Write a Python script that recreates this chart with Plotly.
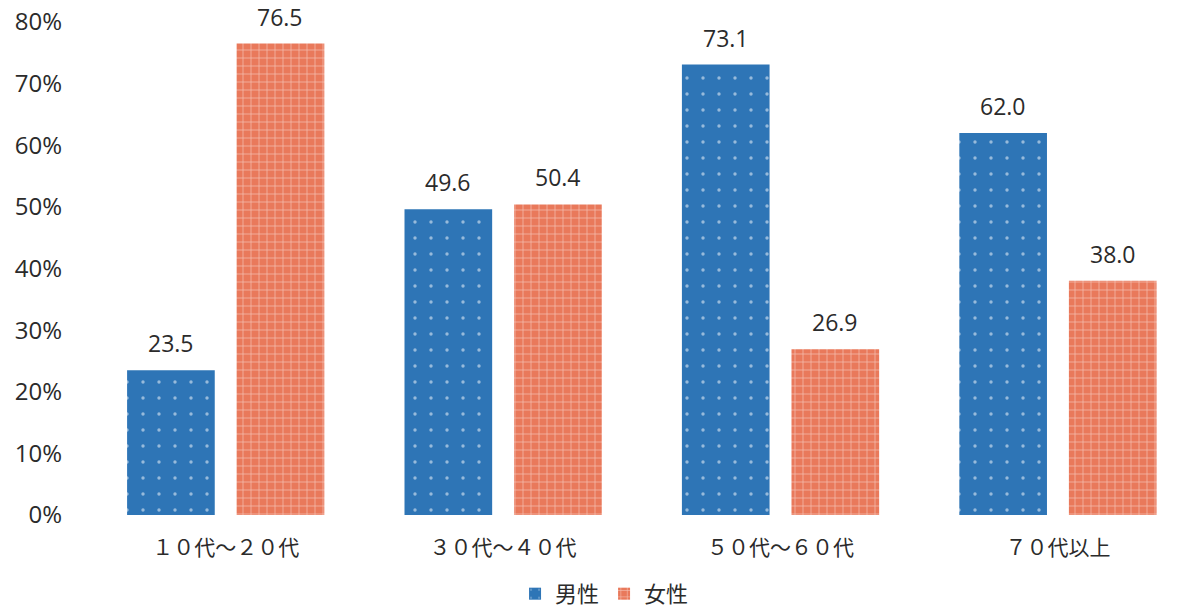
import plotly.graph_objects as go

categories = ["１０代～２０代", "３０代～４０代", "５０代～６０代", "７０代以上"]
male = [23.5, 49.6, 73.1, 62.0]
female = [76.5, 50.4, 26.9, 38.0]
yticks = [0, 10, 20, 30, 40, 50, 60, 70, 80]
yticklabels = [f"{v}%" for v in yticks]

BLUE = "#2e75b6"
ORANGE = "#e9795b"
FONT = "Open Sans, Noto Sans CJK JP, sans-serif"
TXT = "#2b2b2b"

# page body has an 8px default margin -> figure is sized/offset to compensate
W, H = 1172, 604
L, R, T, B = 79, 0, 14, 97
BARGAP, GROUPGAP = 0.21, 0.2

fig = go.Figure()
fig.add_trace(go.Bar(
    name="男性", x=categories, y=male,
    marker=dict(color=BLUE, line=dict(width=0),
                pattern=dict(shape=".", fgcolor="white", bgcolor=BLUE, size=16, solidity=0.035, fillmode="overlay")),
))
fig.add_trace(go.Bar(
    name="女性", x=categories, y=female,
    marker=dict(color=ORANGE, line=dict(width=0),
                pattern=dict(shape="+", fgcolor="white", bgcolor=ORANGE, size=8, solidity=0.18, fillmode="overlay")),
))

# value labels above the bars
xr = [-0.5, 3.44]
px_per_cat = (W - L - R) / (xr[1] - xr[0])
slot = px_per_cat * (1 - BARGAP) / 2
for series, sign in ((male, -1), (female, 1)):
    for c, v in zip(categories, series):
        fig.add_annotation(x=c, y=v, text=f"{v:.1f}", showarrow=False,
                           xshift=sign * slot / 2, yshift=9, yanchor="bottom",
                           font=dict(size=23, color=TXT, family=FONT))

fig.update_layout(
    width=W, height=H,
    margin=dict(l=L, r=R, t=T, b=B),
    paper_bgcolor="white", plot_bgcolor="white",
    barmode="group", bargap=BARGAP, bargroupgap=GROUPGAP,
    font=dict(family=FONT, size=20, color=TXT),
    showlegend=True,
    legend=dict(orientation="h", xref="container", yref="container",
                x=0.509, y=0.03, xanchor="center", yanchor="middle",
                font=dict(size=22, color=TXT), itemwidth=30, traceorder="normal"),
)
fig.update_xaxes(range=xr, showgrid=False, showline=False, zeroline=False,
                 ticks="", ticklabelstandoff=18, tickfont=dict(size=21, color=TXT))
fig.update_yaxes(range=[0, 80], tickvals=yticks, ticktext=yticklabels, showgrid=False,
                 showline=False, zeroline=False, ticks="", ticklabelstandoff=24,
                 ticklabeloverflow="allow", automargin=False,
                 tickfont=dict(size=24, color=TXT))

fig.write_html("out.html")
